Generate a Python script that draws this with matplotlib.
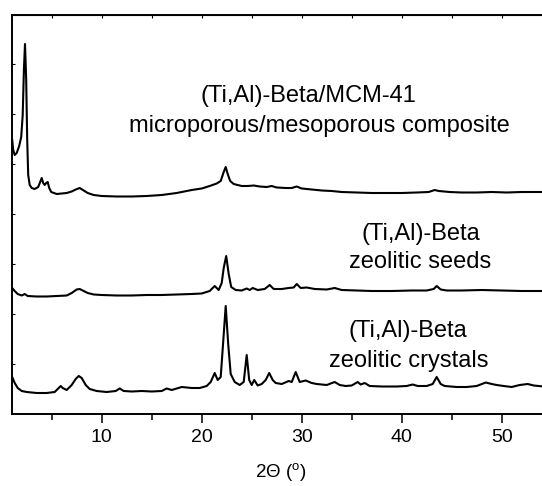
"""XRD patterns of (Ti,Al)-Beta samples, stacked with vertical offsets."""
import matplotlib
matplotlib.use("Agg")
import matplotlib.pyplot as plt
import numpy as np

plt.rcParams["font.family"] = ["Liberation Sans", "DejaVu Sans"]

# 2theta (deg) / intensity (a.u., relative to each pattern's offset)
crystals_2theta = [1.05, 1.3, 1.6, 2.0, 2.5, 3.5, 4.5, 5.3, 5.7, 5.9, 6.1, 6.5, 7.0, 7.4, 7.7,
                   8.0, 8.4, 8.8, 9.5, 10.5, 11.4, 11.8, 12.2, 13.0, 14.0, 15.0, 16.0, 16.5,
                   17.0, 18.0, 19.0, 19.8, 20.5, 20.9, 21.3, 21.6, 21.9, 22.1, 22.4, 22.65,
                   22.9, 23.3, 23.8, 24.2, 24.5, 24.75, 25.0, 25.25, 25.6, 26.0, 26.4, 26.75,
                   27.1, 27.4, 28.0, 28.7, 29.0, 29.4, 29.8, 30.4, 31.0, 31.5, 32.5, 33.3,
                   33.8, 34.4, 35.0, 35.6, 35.9, 36.3, 36.8, 38.0, 39.5, 40.5, 41.1, 41.6,
                   42.5, 43.1, 43.5, 43.9, 44.3, 45.5, 46.5, 47.5, 48.4, 49.0, 49.5, 50.2,
                   51.0, 51.8, 52.6, 53.2, 54.2]
crystals_int = [16, 10, 5, 2, 1, 0, 0, 1, 5, 7, 5, 3, 8, 14, 17,
                15, 8, 4, 2, 1, 2, 4.5, 2, 1.5, 2, 1.5, 2, 4.5,
                3, 6, 5, 5, 7, 11, 20, 13, 16, 44, 87, 49,
                19, 11, 8, 11, 38, 13, 8, 13, 7.5, 9, 13, 20,
                13, 10, 9, 12, 11, 21, 11, 12.5, 10, 9, 8, 11,
                8, 7, 7.5, 11, 8.5, 10, 7, 6.5, 6.5, 7, 8.5, 7,
                7, 9, 16, 9, 7, 6, 6, 7, 10.5, 9, 8, 7,
                6, 8, 9, 7.5, 6.5]

seeds_2theta = [1.05, 1.3, 1.6, 2.0, 2.3, 2.6, 3.5, 4.5, 5.5, 6.5, 7.0, 7.5, 7.8, 8.2, 8.6,
                9.2, 10.0, 11.5, 13.0, 14.5, 16.0, 17.5, 19.0, 20.0, 20.8, 21.3, 21.7, 22.0,
                22.2, 22.45, 22.7, 22.95, 23.4, 24.0, 24.5, 24.8, 25.1, 25.6, 26.3, 26.8,
                27.2, 28.0, 28.7, 29.2, 29.5, 29.9, 30.5, 31.3, 32.5, 33.3, 34.0, 35.5,
                37.0, 39.0, 41.0, 42.5, 43.2, 43.5, 43.9, 44.5, 46.0, 48.0, 50.0, 52.0, 54.2]
seeds_int = [9, 6, 3, 1.5, 3, 1, 0.5, 0.5, 1, 1.5, 4, 7.5, 8, 6, 4,
             2.5, 2, 1.5, 1.5, 2, 2, 2.5, 3, 3.5, 6, 11, 7, 14,
             29, 41, 23, 10, 7, 6.5, 8.5, 7, 9, 7, 8, 12,
             8, 8, 9, 9.5, 13, 9, 9.5, 8, 7.5, 9, 7, 6.5,
             6, 6, 6.5, 6.5, 8, 11, 7.5, 6.5, 6.5, 7, 6.5, 6, 6]

composite_2theta = [1.05, 1.15, 1.3, 1.5, 1.75, 1.95, 2.1, 2.22, 2.33, 2.45, 2.55, 2.65, 2.8,
                    3.0, 3.3, 3.65, 3.85, 4.0, 4.15, 4.3, 4.45, 4.6, 4.75, 4.95, 5.5, 6.5,
                    7.0, 7.4, 7.8, 8.2, 8.6, 9.2, 10.0, 11.5, 13.0, 14.5, 16.0, 17.5, 19.0,
                    20.0, 20.8, 21.5, 21.9, 22.2, 22.4, 22.6, 22.85, 23.2, 24.0, 24.6, 25.2,
                    25.8, 26.5, 27.0, 27.5, 28.4, 29.0, 29.5, 30.0, 31.0, 32.0, 33.0, 34.0,
                    35.5, 37.0, 38.5, 40.0, 41.5, 42.7, 43.3, 43.7, 44.8, 46.0, 47.5, 49.0,
                    50.5, 52.0, 54.2]
composite_int = [57, 47, 42, 44, 51, 60, 82, 127, 153, 117, 57, 22, 12,
                 9, 8, 10, 15, 19, 14, 12, 14, 15, 9, 5, 3, 4,
                 5.5, 7.5, 9, 6.5, 4, 2, 1, 0.5, 0.5, 1, 2, 4, 7,
                 8.5, 11, 13.5, 16, 25, 30, 23, 16, 13, 11, 11, 11.5,
                 10.5, 10, 11, 9.5, 9, 9, 10.5, 8.5, 7.5, 6.5, 6, 5,
                 4.5, 4, 4, 4, 4.5, 5, 7, 6, 5, 4.5, 4.5, 5,
                 4.5, 5, 5]

offsets = {"crystals": 21, "seeds": 117, "composite": 217}

xticks = [10, 20, 30, 40, 50]

fig = plt.figure(figsize=(5.42, 4.86), dpi=100)
ax = fig.add_axes([12 / 542, 72 / 486, 530 / 542, 399 / 486])

ax.plot(crystals_2theta, np.array(crystals_int) + offsets["crystals"], color="black", lw=1.5)
ax.plot(seeds_2theta, np.array(seeds_int) + offsets["seeds"], color="black", lw=1.5)
ax.plot(composite_2theta, np.array(composite_int) + offsets["composite"], color="black", lw=1.5)

ax.set_xlim(1.03, 54.03)
ax.set_ylim(0, 399)

for side in ["left", "bottom", "top"]:
    ax.spines[side].set_linewidth(1.4)
ax.spines["right"].set_visible(False)

ax.set_xticks(xticks)
ax.set_xticks(np.arange(5, 55, 10), minor=True)
ax.tick_params(axis="x", which="major", direction="out", length=6.5, width=1.1,
               labelsize=14, pad=4)
ax.tick_params(axis="x", which="minor", direction="out", length=4.3, width=1.1)
ax.set_yticks(np.arange(50, 400, 50))
ax.tick_params(axis="y", direction="in", length=2.5, width=0.8, labelleft=False)

# short inward ticks along the top edge
top = ax.secondary_xaxis("top")
top.set_xticks(np.arange(5, 55, 5))
top.set_xticklabels([])
top.tick_params(direction="in", length=2.5, width=0.8)

txt = dict(fontsize=17, ha="center", va="baseline")
ax.text(30.7, 414 - 102, "(Ti,Al)-Beta/MCM-41", **txt)
ax.text(31.8, 414 - 132, "microporous/mesoporous composite", **txt)
ax.text(41.9, 414 - 240, "(Ti,Al)-Beta", **txt)
ax.text(41.8, 414 - 268, "zeolitic seeds", **txt)
ax.text(40.6, 414 - 337, "(Ti,Al)-Beta", **txt)
ax.text(40.7, 414 - 367, "zeolitic crystals", **txt)

fig.text(281 / 542, 8 / 486, "2\u0398 ($^{\\mathregular{o}}$)", fontsize=13.5,
         ha="center", va="baseline")

fig.savefig("out.png", dpi=100)
